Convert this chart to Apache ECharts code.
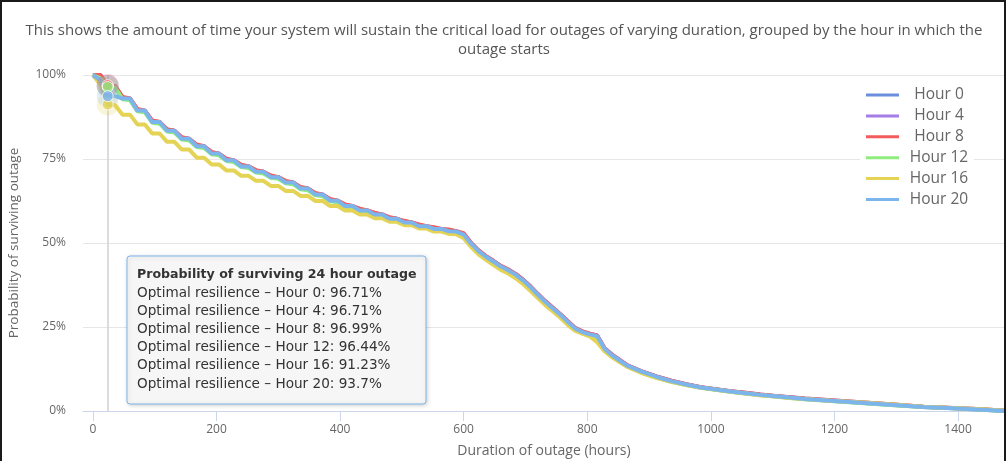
<!DOCTYPE html>
<html>
<head>
<meta charset="utf-8">
<script src="https://cdn.jsdelivr.net/npm/echarts@6/dist/echarts.min.js"></script>
<style>
html,body{margin:0;padding:0;background:#fff;}
#chart{width:1008px;height:461px;}
</style>
</head>
<body>
<div id="chart"></div>
<script>
// ---------- data ----------
const titleText = 'This shows the amount of time your system will sustain the critical load for outages of varying duration, grouped by the hour in which the\noutage starts';
const xAxisTitle = 'Duration of outage (hours)';
const yAxisTitle = 'Probability of surviving outage';
const xTickValues = [0, 200, 400, 600, 800, 1000, 1200, 1400];

const seriesNames = ['Hour 0', 'Hour 4', 'Hour 8', 'Hour 12', 'Hour 16', 'Hour 20'];

const hours = [
  0,12,24,36,48,60,72,84,96,108,
  120,132,144,156,168,180,192,204,216,228,
  240,252,264,276,288,300,312,324,336,348,
  360,372,384,396,408,420,432,444,456,468,
  480,492,504,516,528,540,552,564,576,588,
  600,
  612,624,636,648,660,672,684,696,708,720,732,744,756,768,780,792,804,816,828,840,
  864,888,912,936,960,984,1008,1032,1056,1080,1104,1128,1152,
  1200,1248,1296,1344,1392,1440,1476
];

const hour0 = [
  100,100,96.71,96.71,93.0,93.0,89.4,89.4,86.0,86.0,
  83.4,83.4,81.0,81.0,78.8,78.8,76.6,76.6,74.6,74.6,
  72.8,72.8,71.2,71.2,69.6,69.6,68.0,68.0,66.2,66.2,
  64.4,64.4,62.6,62.6,61.0,61.0,59.7,59.7,58.5,58.5,
  57.2,57.2,56.1,56.1,55.0,55.0,54.2,54.2,53.5,53.4,
  52.5,
  49.8,47.6,45.9,44.5,43.0,41.9,40.6,38.9,36.9,34.6,32.5,30.6,28.7,26.6,24.6,23.5,22.8,22.3,18.5,16.6,
  13.6,11.7,10.2,8.9,7.9,7.0,6.4,5.8,5.3,4.8,4.4,4.0,3.6,
  3.0,2.4,1.8,1.2,0.8,0.4,0.0
];

const hour4 = [
  100,100,96.71,96.71,93.3,93.0,89.7,89.4,86.3,86.0,
  83.7,83.4,81.3,81.0,79.1,78.8,76.9,76.6,74.9,74.6,
  73.1,72.8,71.5,71.2,69.9,69.6,68.3,68.0,66.5,66.2,
  64.7,64.4,62.9,62.6,61.3,61.0,60.0,59.7,58.8,58.5,
  57.5,57.2,56.4,56.1,55.3,55.0,54.5,54.2,53.8,53.5,
  52.8,
  50.0,47.8,46.1,44.7,43.2,42.1,40.8,39.1,37.1,34.8,32.7,30.8,28.9,26.8,24.8,23.7,23.0,22.5,18.7,16.8,
  13.7,11.8,10.3,9.0,8.0,7.1,6.5,5.9,5.4,4.9,4.5,4.1,3.7,
  3.1,2.5,1.9,1.3,0.9,0.5,0.1
];

const hour8 = [
  100,100,96.99,96.71,93.5,93.0,89.9,89.4,86.5,86.0,
  83.9,83.4,81.5,81.0,79.3,78.8,77.1,76.6,75.1,74.6,
  73.3,72.8,71.7,71.2,70.1,69.6,68.5,68.0,66.7,66.2,
  64.9,64.4,63.1,62.6,61.5,61.0,60.2,59.7,59.0,58.5,
  57.7,57.2,56.6,56.1,55.5,55.0,54.7,54.2,54.0,53.5,
  52.9,
  50.0,47.8,46.1,44.7,43.2,42.1,40.8,39.1,37.1,34.8,32.7,30.8,28.9,26.8,24.8,23.7,23.0,22.5,18.7,16.8,
  13.7,11.8,10.3,9.0,8.0,7.1,6.5,5.9,5.4,4.9,4.5,4.1,3.7,
  3.1,2.5,1.9,1.3,0.9,0.5,0.1
];

const hour12 = [
  100,99.0,96.44,96.2,92.8,92.5,89.2,88.9,85.8,85.5,
  83.2,82.9,80.8,80.5,78.6,78.3,76.4,76.1,74.4,74.1,
  72.6,72.3,71.0,70.7,69.4,69.1,67.8,67.5,66.0,65.7,
  64.2,63.9,62.4,62.1,60.8,60.5,59.5,59.2,58.3,58.0,
  57.0,56.7,55.9,55.6,54.8,54.5,54.0,53.7,53.3,53.0,
  52.2,
  49.1,47.0,45.3,43.9,42.4,41.3,39.9,38.2,36.2,34.0,31.9,30.0,28.1,26.0,24.1,23.1,22.4,21.3,18.0,16.2,
  13.3,11.4,9.9,8.7,7.7,6.9,6.3,5.7,5.2,4.7,4.3,3.9,3.5,
  2.9,2.3,1.7,1.2,0.8,0.4,0.0
];

const hour16 = [
  100,97.2,91.23,91.0,88.2,88.2,85.3,85.3,82.6,82.6,
  80.1,80.1,77.8,77.8,75.4,75.4,73.4,73.4,71.6,71.6,
  70.0,70.0,68.5,68.5,67.0,67.0,65.5,65.5,64.0,64.0,
  62.5,62.5,61.0,61.0,59.7,59.7,58.5,58.5,57.4,57.4,
  56.3,56.3,55.3,55.3,54.3,54.3,53.4,53.4,52.7,52.6,
  51.4,
  48.8,46.6,45.0,43.5,42.0,40.9,39.5,37.8,35.8,33.6,31.5,29.7,27.8,25.7,23.9,23.0,22.2,20.5,17.8,16.0,
  13.2,11.3,9.9,8.7,7.7,6.9,6.3,5.7,5.2,4.7,4.3,3.9,3.6,
  3.0,2.5,1.9,1.3,0.9,0.5,0.1
];

const hour20 = [
  100,98.5,93.7,93.7,93.0,93.0,89.4,89.4,86.0,86.0,
  83.4,83.4,81.0,81.0,78.8,78.8,76.6,76.6,74.6,74.6,
  72.8,72.8,71.2,71.2,69.6,69.6,68.0,68.0,66.2,66.2,
  64.4,64.4,62.6,62.6,61.0,61.0,59.7,59.7,58.5,58.5,
  57.2,57.2,56.1,56.1,55.0,55.0,54.2,54.2,53.5,53.4,
  52.5,
  49.8,47.6,45.9,44.5,43.0,41.9,40.6,38.9,36.9,34.6,32.5,30.6,28.7,26.6,24.6,23.5,22.8,22.3,18.5,16.6,
  13.6,11.7,10.2,8.9,7.9,7.0,6.4,5.8,5.3,4.8,4.4,4.0,3.6,
  3.0,2.4,1.8,1.2,0.8,0.4,0.0
];

const seriesValues = [hour0, hour4, hour8, hour12, hour16, hour20];

// tooltip shown in the picture (hover at 24 hours)
const hoverHour = 24;
const tooltipTitle = 'Probability of surviving 24 hour outage';
const tooltipPrefix = 'Optimal resilience';
const tooltipValues = [96.71, 96.71, 96.99, 96.44, 91.23, 93.7];

// ---------- chart ----------
const colors = ['#6b8fdc', '#a47de6', '#f45b5b', '#90ed7d', '#e4d354', '#7cb5ec'];
const FONT = "'Open Sans', sans-serif";

const lineSeries = seriesNames.map((name, i) => ({
  name: name,
  type: 'line',
  data: hours.map((h, k) => [h, seriesValues[i][k]]),
  showSymbol: false,
  symbol: 'none',
  color: colors[i],
  lineStyle: { width: 4, color: colors[i] },
  emphasis: { disabled: true },
  z: 2,
  markLine: i === 0 ? {
    silent: true,
    z: 1,
    symbol: ['none', 'none'],
    label: { show: false },
    lineStyle: { color: '#d0d0d0', width: 1.5, type: 'solid' },
    data: [{ xAxis: hoverHour }]
  } : undefined
}));

const haloSeries = {
  name: 'halo',
  type: 'scatter',
  symbolSize: 22,
  z: 3,
  silent: true,
  data: seriesNames.map((n, i) => ({ value: [hoverHour, tooltipValues[i]], itemStyle: { color: colors[i], opacity: 0.22 } }))
};
const markerSeries = {
  name: 'marker',
  type: 'scatter',
  symbolSize: 11,
  z: 4,
  silent: true,
  data: seriesNames.map((n, i) => ({ value: [hoverHour, tooltipValues[i]], itemStyle: { color: colors[i], borderColor: '#ffffff', borderWidth: 1 } }))
};

const tipX = 127, tipY = 256;
const tipChildren = [
  { type: 'rect', z: 100, shape: { x: 0, y: 0, width: 299, height: 148, r: 3 },
    style: { fill: 'rgba(247,247,247,0.97)', stroke: '#7cb5ec', lineWidth: 1,
             shadowColor: 'rgba(0,0,0,0.18)', shadowBlur: 4, shadowOffsetX: 1, shadowOffsetY: 1 } },
  { type: 'text', z: 101, x: 10, y: 19,
    style: { text: tooltipTitle, fill: '#333', font: "bold 12.6px 'DejaVu Sans', sans-serif", verticalAlign: 'middle' } }
];
seriesNames.forEach((n, i) => {
  tipChildren.push({ type: 'text', z: 101, x: 10, y: 37.5 + 18.1 * i,
    style: { text: tooltipPrefix + ' \u2013 ' + n + ': ' + tooltipValues[i] + '%', fill: '#333',
             font: "13.6px 'DejaVu Sans', sans-serif", verticalAlign: 'middle' } });
});

const chart = echarts.init(document.getElementById('chart'), null, { renderer: 'canvas' });
chart.setOption({
  animation: false,
  backgroundColor: '#ffffff',
  title: {
    text: titleText,
    left: 'center',
    top: 16,
    textStyle: { fontFamily: FONT, fontSize: 15, fontWeight: 'normal', color: '#555', lineHeight: 19 }
  },
  legend: {
    data: seriesNames,
    orient: 'vertical',
    left: 860,
    top: 85,
    padding: [1, 0, 4, 6],
    backgroundColor: '#ffffff',
    icon: 'rect',
    itemWidth: 33,
    itemHeight: 3,
    itemGap: 2.9,
    formatter: '{t|{name}}',
    textStyle: {
      fontFamily: FONT, fontSize: 15.5, color: '#666', lineHeight: 18,
      rich: { t: { width: 70, align: 'center', fontFamily: FONT, fontSize: 15.5, color: '#666', lineHeight: 18 } }
    }
  },
  grid: { left: 83, right: 3, top: 75, bottom: 50, containLabel: false, outerBoundsMode: 'none' },
  xAxis: {
    type: 'value',
    min: -16,
    max: 1476,
    name: xAxisTitle,
    nameLocation: 'middle',
    nameGap: 33,
    nameTextStyle: { fontFamily: FONT, fontSize: 14, color: '#666' },
    axisLine: { show: true, lineStyle: { color: '#ccd6eb', width: 1 } },
    axisTick: { show: true, length: 10, customValues: xTickValues, lineStyle: { color: '#ccd6eb' } },
    axisLabel: { customValues: xTickValues, margin: 13, fontFamily: FONT, fontSize: 12, color: '#666',
                 formatter: v => String(v) },
    splitLine: { show: false }
  },
  yAxis: {
    type: 'value',
    min: 0,
    max: 100,
    interval: 25,
    name: yAxisTitle,
    nameLocation: 'middle',
    nameGap: 62,
    nameTextStyle: { fontFamily: FONT, fontSize: 13.5, color: '#666' },
    axisLine: { show: false },
    axisTick: { show: false },
    axisLabel: { formatter: '{value}%', margin: 17, fontFamily: FONT, fontSize: 12, color: '#666' },
    splitLine: { show: true, lineStyle: { color: '#e6e6e6', width: 1 } }
  },
  series: lineSeries.concat([haloSeries, markerSeries]),
  graphic: [
    { type: 'group', x: tipX, y: tipY, z: 100, children: tipChildren },
    { type: 'rect', z: 110, silent: true, shape: { x: 1, y: 1, width: 1004, height: 480 },
      style: { fill: 'none', stroke: '#1a1a1a', lineWidth: 2 } }
  ]
});
</script>
</body>
</html>
